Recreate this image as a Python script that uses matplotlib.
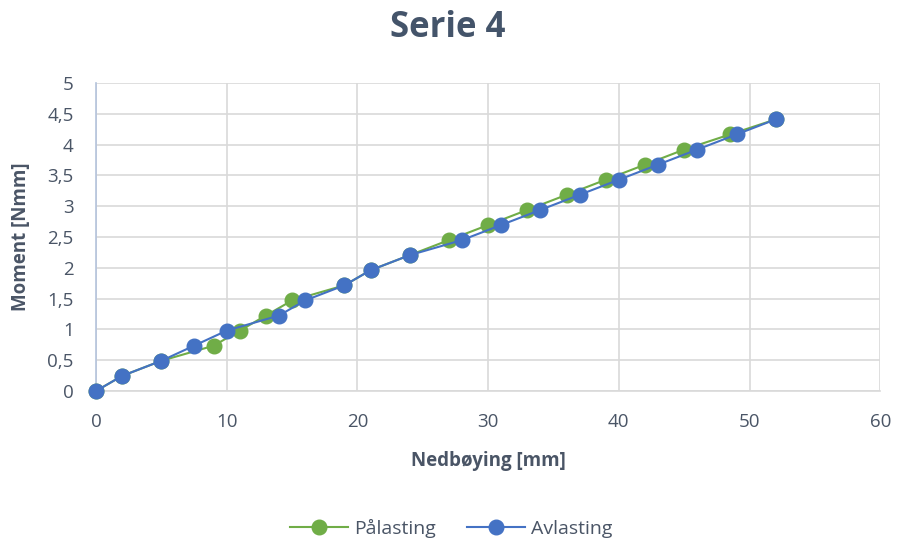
import matplotlib
matplotlib.use("Agg")
import matplotlib.pyplot as plt

# Load steps (moment in Nmm) and measured deflection (mm)
moment = [0, 0.245, 0.49, 0.735, 0.98, 1.225, 1.47, 1.715, 1.96, 2.205,
          2.45, 2.695, 2.94, 3.185, 3.43, 3.675, 3.92, 4.165, 4.41]
paalasting_x = [0, 2, 5, 9, 11, 13, 15, 19, 21, 24,
                27, 30, 33, 36, 39, 42, 45, 48.5, 52]
avlasting_x = [0, 2, 5, 7.5, 10, 14, 16, 19, 21, 24,
               28, 31, 34, 37, 40, 43, 46, 49, 52]

x_ticks = [0, 10, 20, 30, 40, 50, 60]
y_ticks = [0, 0.5, 1, 1.5, 2, 2.5, 3, 3.5, 4, 4.5, 5]
y_tick_labels = ["0", "0,5", "1", "1,5", "2", "2,5", "3", "3,5", "4", "4,5", "5"]

plt.rcParams["font.family"] = ["Open Sans", "DejaVu Sans"]
text_col = "#4A5566"

fig = plt.figure(figsize=(8.99, 5.44), dpi=100)
ax = fig.add_axes([0.1068, 0.2813, 0.8724, 0.5661])

ax.plot(paalasting_x, moment, color="#70AD47", lw=1.5, marker="o",
        markersize=10.5, markeredgecolor="#70AD47", label="Pålasting",
        zorder=3, clip_on=False)
ax.plot(avlasting_x, moment, color="#4472C4", lw=1.5, marker="o",
        markersize=10.5, markeredgecolor="#4472C4", label="Avlasting",
        zorder=4, clip_on=False)

ax.set_xlim(0, 60)
ax.set_ylim(0, 5)
ax.set_xticks(x_ticks)
ax.set_yticks(y_ticks)
ax.set_yticklabels(y_tick_labels)
ax.grid(True, color="#D9D9D9", lw=1.2, zorder=0)
ax.set_axisbelow(True)
for s in ["top", "right"]:
    ax.spines[s].set_visible(False)
ax.spines["left"].set_color("#B4C3DC")
ax.spines["bottom"].set_color("#D9D9D9")
ax.spines["left"].set_linewidth(1.2)
ax.spines["bottom"].set_linewidth(1.2)
ax.tick_params(length=0, labelsize=13.5, colors=text_col)
ax.tick_params(axis="x", pad=16)
ax.tick_params(axis="y", pad=16)

ax.set_xlabel("Nedbøying [mm]", fontsize=13.5, fontweight="bold", color=text_col, labelpad=14)
ax.set_ylabel("Moment [Nmm]", fontsize=13.5, fontweight="bold", color=text_col, labelpad=12)

fig.text(0.498, 0.949, "Serie 4", ha="center", va="center",
         fontsize=25, fontweight="bold", color="#44546A")

fig.legend(loc="center", bbox_to_anchor=(0.502, 0.029), ncol=2, frameon=False,
           fontsize=14, labelcolor=text_col, handlelength=3.0, columnspacing=1.6,
           handletextpad=0.3)

fig.savefig("out.png", dpi=100)
